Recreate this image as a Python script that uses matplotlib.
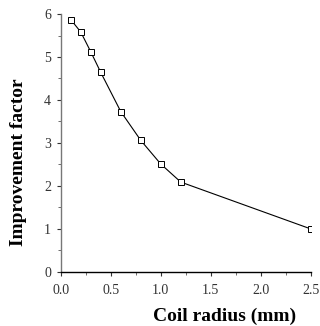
import matplotlib
matplotlib.use("Agg")
import matplotlib.pyplot as plt
from matplotlib.ticker import MultipleLocator

coil_radius = [0.1, 0.2, 0.3, 0.4, 0.6, 0.8, 1.0, 1.2, 2.5]
improvement = [5.87, 5.58, 5.12, 4.64, 3.73, 3.06, 2.51, 2.09, 1.0]
xticks = [0.0, 0.5, 1.0, 1.5, 2.0, 2.5]
xticklabels = ["0.0", "0.5", "1.0", "1.5", "2.0", "2.5"]
yticks = [0, 1, 2, 3, 4, 5, 6]

plt.rcParams['font.family'] = ['Liberation Serif', 'DejaVu Serif']

W, H = 320, 326
fig = plt.figure(figsize=(W / 100, H / 100), dpi=100)
ax = fig.add_axes([0.19, 0.166, 0.781, 0.791])
ax.plot(coil_radius, improvement, color='black', lw=0.8, marker='s', ms=4,
        mfc='white', mec='black', mew=0.7)
ax.set_xlim(0, 2.5)
ax.set_ylim(0, 6)
ax.set_xticks(xticks)
ax.set_xticklabels(xticklabels)
ax.set_yticks(yticks)
ax.xaxis.set_minor_locator(MultipleLocator(0.25))
ax.yaxis.set_minor_locator(MultipleLocator(0.5))
for s in ['top', 'right']:
    ax.spines[s].set_visible(False)
ax.spines['left'].set_color('#777777')
ax.spines['left'].set_linewidth(1.0)
ax.spines['bottom'].set_linewidth(1.0)
ax.tick_params(which='major', direction='out', length=3, width=0.8, labelsize=10, colors='#333333')
ax.tick_params(axis='x', which='major', pad=6)
ax.tick_params(axis='y', which='major', pad=4)
ax.tick_params(which='minor', direction='out', length=2, width=0.6, colors='#555555')

fig.text(225 / W, 1 - 316 / H, 'Coil radius (mm)', fontsize=14, fontweight='bold',
         ha='center', va='center')
fig.text(19 / W, 1 - 162 / H, 'Improvement factor', fontsize=14, fontweight='bold',
         ha='center', va='center', rotation=90)
fig.savefig('out.png', dpi=100)
